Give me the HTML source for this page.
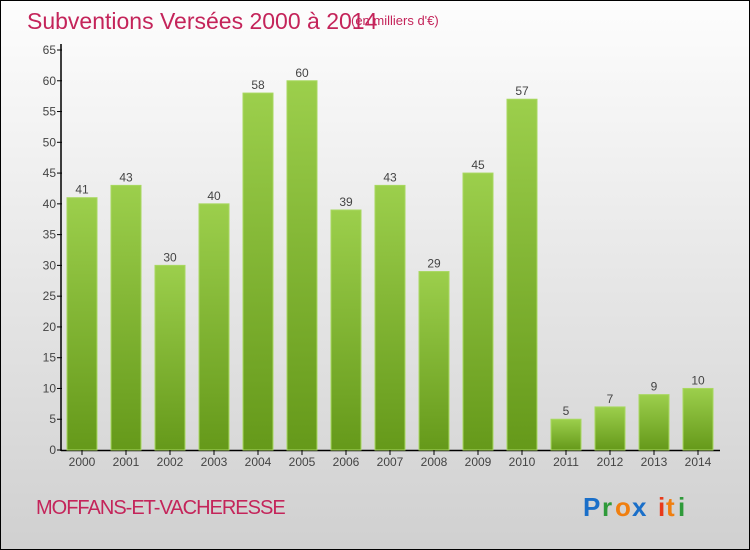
<!DOCTYPE html>
<html><head><meta charset="utf-8"><style>
body{margin:0}
#c{width:750px;height:550px;position:relative;box-sizing:border-box;border:1px solid #000;background:linear-gradient(#fdfdfd,#f0f0f0 30%,#d0d0d0);overflow:hidden;font-family:"Liberation Sans",sans-serif}
</style></head><body>
<div id="c">
<svg width="750" height="550" style="position:absolute;left:-1px;top:-1px">
<defs><linearGradient id="g" x1="0" y1="0" x2="0" y2="1"><stop offset="0" stop-color="#9ccf4c"/><stop offset="1" stop-color="#65991a"/></linearGradient></defs>
<text x="27" y="29" font-size="23" fill="#c4245a">Subventions Versées 2000 à 2014</text>
<text x="351" y="25" font-size="13" fill="#c4245a">(en milliers d'€)</text>
<text x="36" y="514" font-size="20" fill="#c4245a" letter-spacing="-1">MOFFANS-ET-VACHERESSE</text>
<g font-size="26" font-weight="bold">
<text x="583" y="516" fill="#1a6fc9">P</text><text x="602" y="516" fill="#2f9a3a">r</text><text x="615" y="516" fill="#f07f10">o</text><text x="632" y="516" fill="#1a6fc9">x</text><text x="658" y="516" fill="#e83a1a">i</text><text x="666" y="516" fill="#f07f10">t</text><text x="678" y="516" fill="#2f9a3a">i</text>
</g>
<g id="plot"></g>
</svg>
</div>
<script>
const categories=["2000","2001","2002","2003","2004","2005","2006","2007","2008","2009","2010","2011","2012","2013","2014"];
const values=[41,43,30,40,58,60,39,43,29,45,57,5,7,9,10];
const yTicks=[0,5,10,15,20,25,30,35,40,45,50,55,60,65];
const ns="http://www.w3.org/2000/svg";
const g=document.getElementById('plot');
const y=v=>450-v*400/65;
const x=i=>82+i*44;
function mk(t,a){const e=document.createElementNS(ns,t);for(const k in a)e.setAttribute(k,a[k]);g.appendChild(e);return e;}
let ax=mk('line',{x1:61,y1:44,x2:61,y2:451,stroke:'#000','stroke-width':1.5});


let bx=mk('line',{x1:61,y1:450.5,x2:720,y2:450.5,stroke:'#000','stroke-width':1.5});


yTicks.forEach(v=>{
 let t=mk('line',{x1:57,x2:62,y1:y(v),y2:y(v),stroke:'#000'});
 
 
 let l=mk('text',{x:56,y:y(v)+4,'text-anchor':'end','font-size':12,fill:'#444'});
 l.textContent=v;
 
 
});
categories.forEach((c,i)=>{
 let b=mk('rect',{x:x(i)-15,y:y(values[i]),width:30,height:450-y(values[i]),fill:'url(#g)',stroke:'#a8d860','stroke-width':1});
 
 
 let v=mk('text',{x:x(i),y:y(values[i])-4,'text-anchor':'middle','font-size':12,fill:'#444'});
 v.textContent=values[i];
 
 
 let tk=mk('line',{x1:x(i),x2:x(i),y1:450,y2:455,stroke:'#000'});
 
 
 let l=mk('text',{x:x(i),y:466,'text-anchor':'middle','font-size':12,fill:'#444'});
 l.textContent=c;
 
 
});
</script>
</body></html>
